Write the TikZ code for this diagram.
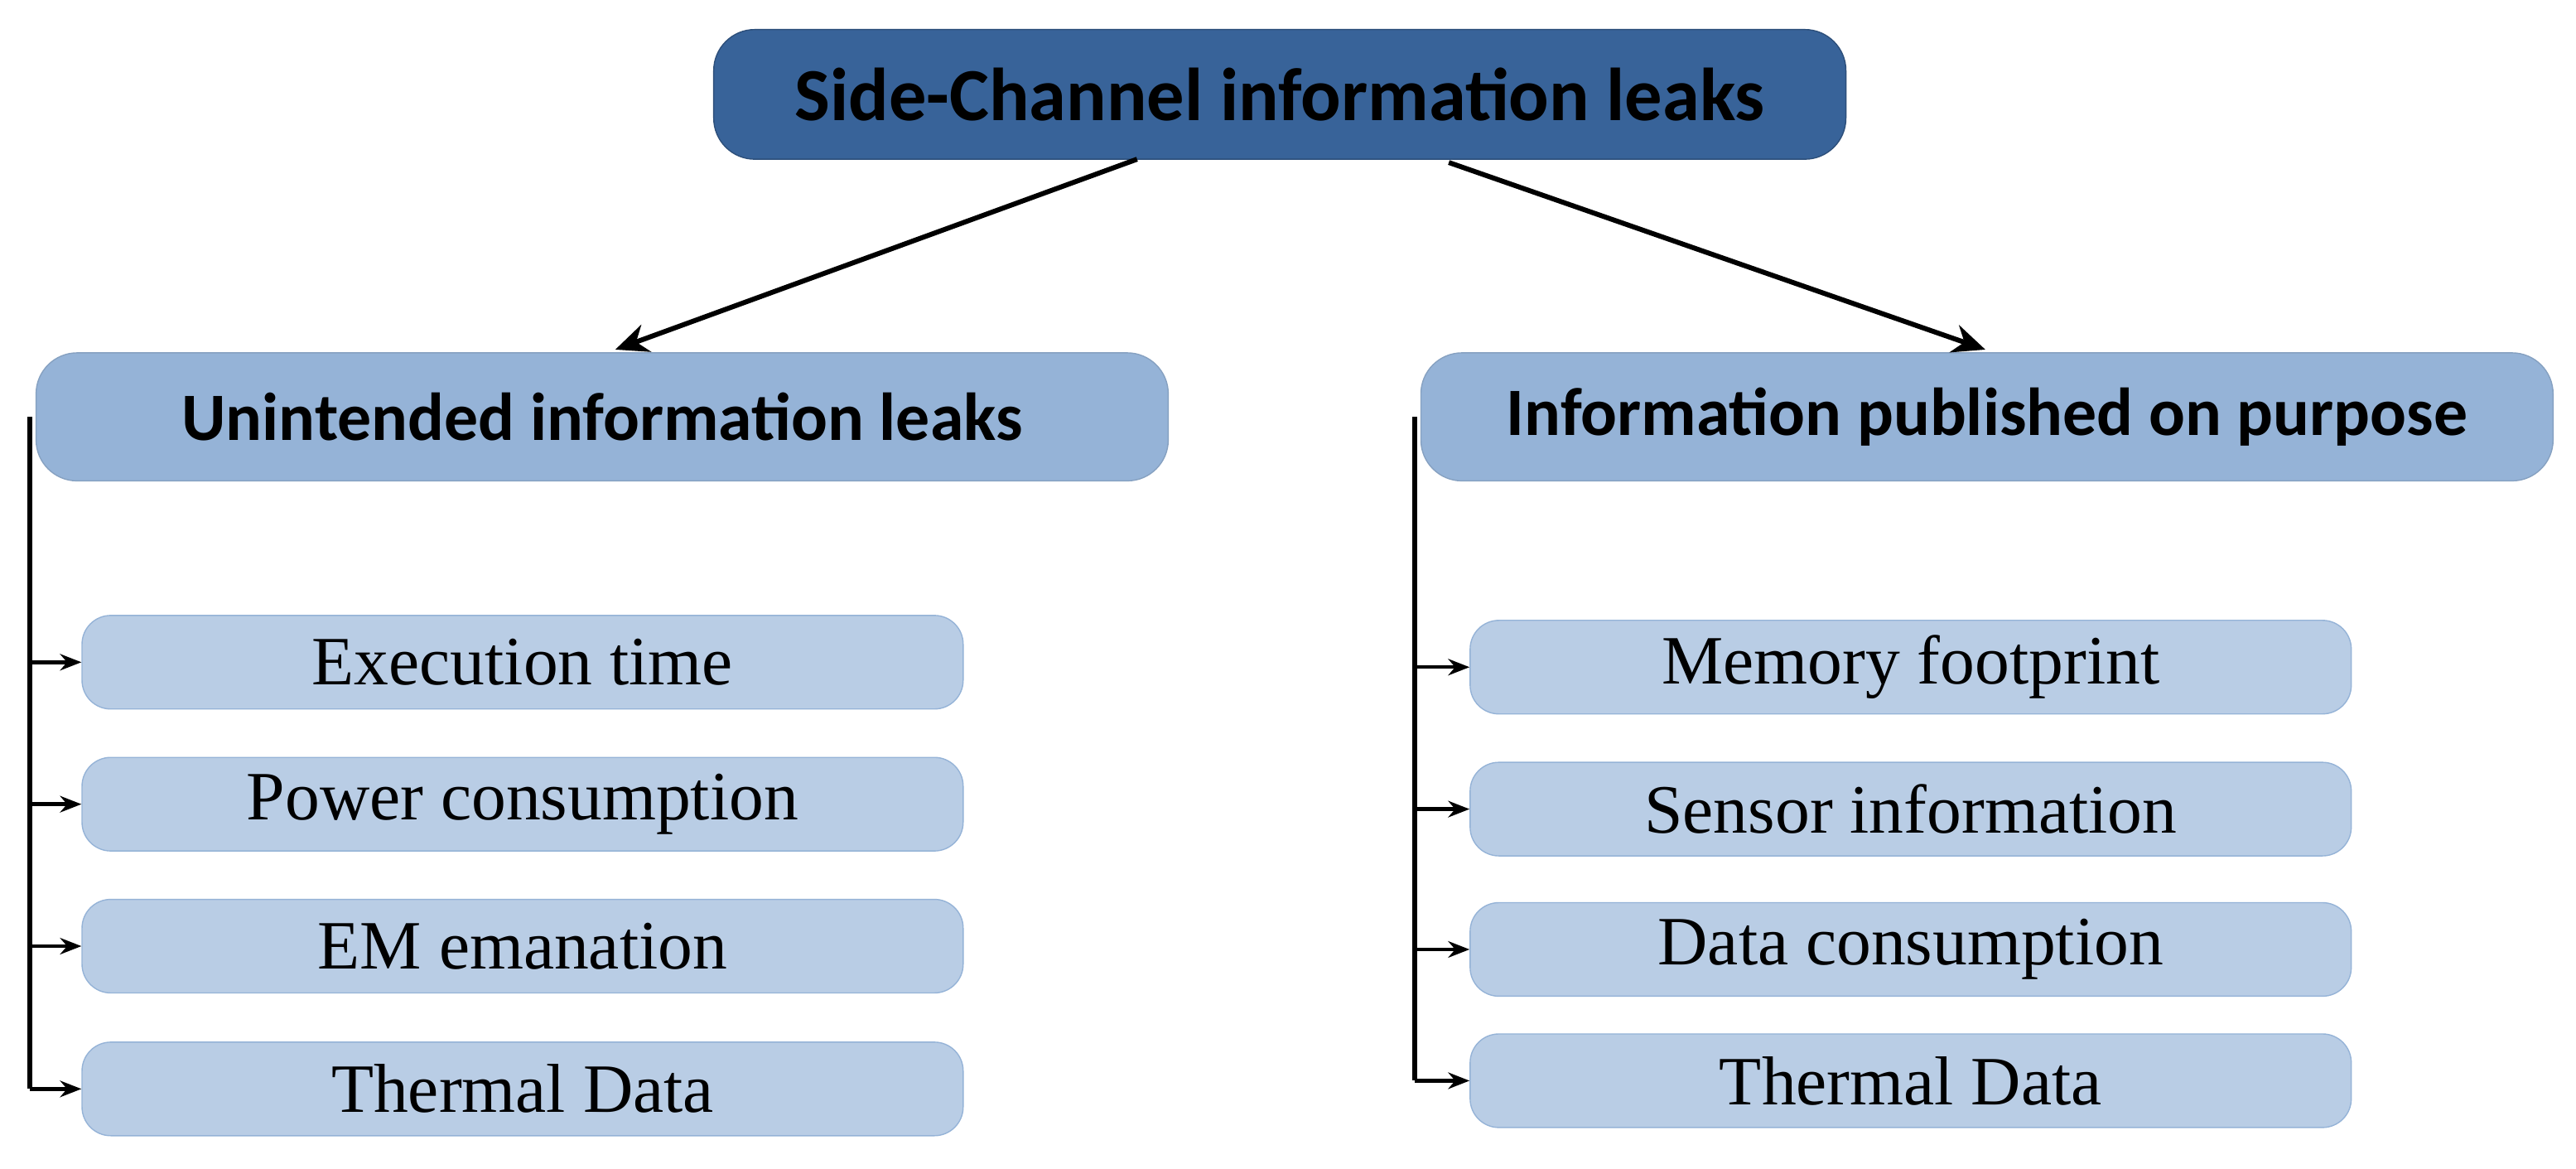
\documentclass[tikz,border=0pt]{standalone}
\usepackage{fontspec}
\setmainfont{Liberation Serif}
\newfontfamily\hd{Carlito}
\usetikzlibrary{arrows.meta}
\definecolor{top}{HTML}{386399}
\definecolor{mid}{HTML}{95B3D7}
\definecolor{leaf}{HTML}{B9CDE5}
\begin{document}
\begin{tikzpicture}[x=0.2mm,y=-0.2mm,
 topb/.style={draw=top!80!black,fill=top,rounded corners=5mm,minimum width=138mm,minimum height=15.8mm,font=\hd\bfseries\fontsize{26}{31}\selectfont},
 midb/.style={draw=mid!90!black,fill=mid,rounded corners=5mm,minimum width=138mm,minimum height=15.6mm,font=\hd\bfseries\fontsize{23.5}{28}\selectfont},
 leafb/.style={draw=mid,fill=leaf,rounded corners=3.5mm,minimum width=107.4mm,minimum height=11.4mm,font=\fontsize{24}{29}\selectfont},
 conn/.style={line width=0.6mm,-{Stealth[length=4mm,width=3.5mm]}},
 sconn/.style={line width=0.45mm,-{Stealth[length=2.6mm,width=2mm]}}]
\useasboundingbox[fill=white] (0,0) rectangle (1570,712);
\node[topb] (t) at (780,57.5) {Side-Channel information leaks};
\node[midb] (l) at (367,254) {Unintended information leaks};
\node[midb] (r) at (1211,254) {Information published on purpose};
\node[leafb] (l1) at (318.5,403.5) {Execution time};
\node[leafb] (l2) at (318.5,490) {Power consumption};
\node[leafb] (l3) at (318.5,576.5) {EM emanation};
\node[leafb] (l4) at (318.5,663.5) {Thermal Data};
\node[leafb] (r1) at (1164.5,406.5) {Memory footprint};
\node[leafb] (r2) at (1164.5,493) {Sensor information};
\node[leafb] (r3) at (1164.5,578.5) {Data consumption};
\node[leafb] (r4) at (1164.5,658.5) {Thermal Data};
\coordinate (ta) at (693,97);
\coordinate (tb) at (883,99);
\draw[conn] (ta) -- (375,213);
\draw[conn] (tb) -- (1210,213);
\coordinate (lt) at (18,254);
\coordinate (lb) at (18,663.5);
\coordinate (rt) at (862,254);
\coordinate (rb) at (862,658.5);
\draw[line width=0.6mm] (lt) -- (lb);
\draw[line width=0.6mm] (rt) -- (rb);
\foreach \n in {l1,l2,l3,l4}{\draw[sconn] (lt|-\n.west) -- (\n.west);}
\foreach \n in {r1,r2,r3,r4}{\draw[sconn] (rt|-\n.west) -- (\n.west);}
\end{tikzpicture}
\end{document}
